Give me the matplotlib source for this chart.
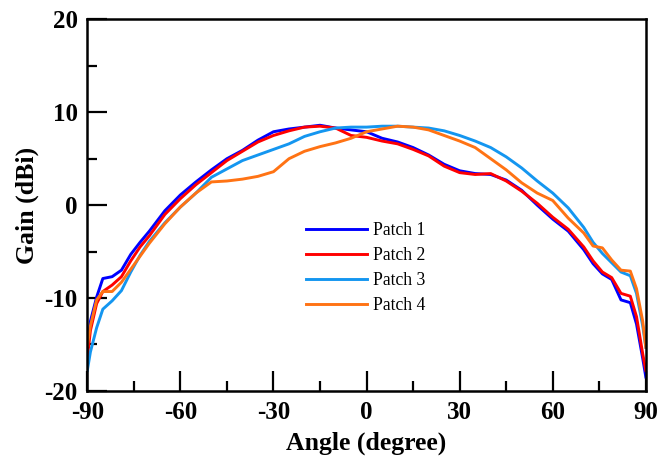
import numpy as np
import matplotlib.pyplot as plt
from matplotlib.ticker import MultipleLocator

# angles in degrees
angle = [-90, -89, -87, -85, -82, -79, -76, -73, -70, -65, -60, -55, -50, -45, -40,
         -35, -30, -25, -20, -15, -10, -5, 0, 5, 10, 15, 20, 25, 30, 35, 40, 45,
         50, 55, 60, 65, 70, 73, 76, 79, 82, 85, 87, 89, 90]

patch1 = [-15.5, -12.5, -9.9, -7.9, -7.7, -7.0, -5.3, -4.0, -2.8, -0.6, 1.1, 2.5, 3.8, 5.0, 5.9,
          7.0, 7.9, 8.2, 8.4, 8.6, 8.3, 8.1, 7.9, 7.2, 6.8, 6.2, 5.4, 4.4, 3.7, 3.4, 3.3, 2.7,
          1.6, 0.0, -1.5, -2.8, -4.8, -6.3, -7.4, -8.0, -10.2, -10.5, -12.8, -16.5, -18.5]
patch2 = [-16.5, -13.5, -10.6, -9.3, -8.6, -7.7, -6.0, -4.5, -3.3, -1.0, 0.7, 2.2, 3.5, 4.8, 5.8,
          6.8, 7.5, 8.0, 8.4, 8.5, 8.3, 7.5, 7.3, 6.9, 6.6, 6.0, 5.3, 4.2, 3.5, 3.3, 3.4, 2.6,
          1.5, 0.2, -1.3, -2.6, -4.5, -6.0, -7.2, -7.8, -9.5, -9.8, -12.0, -16.0, -17.8]
patch3 = [-17.8, -15.8, -13.2, -11.2, -10.3, -9.2, -7.2, -5.4, -3.9, -1.9, -0.2, 1.3, 3.0, 3.9, 4.8,
          5.4, 6.0, 6.6, 7.4, 7.9, 8.3, 8.4, 8.4, 8.5, 8.5, 8.4, 8.3, 8.0, 7.5, 6.9, 6.2, 5.2,
          4.0, 2.6, 1.3, -0.3, -2.4, -4.0, -5.2, -6.2, -7.2, -7.6, -9.5, -13.0, -15.3]
patch4 = [-15.1, -13.0, -10.2, -9.3, -9.3, -8.3, -6.9, -5.5, -4.1, -2.0, -0.2, 1.3, 2.5, 2.6, 2.8,
          3.1, 3.6, 5.0, 5.8, 6.3, 6.7, 7.2, 7.9, 8.2, 8.5, 8.4, 8.1, 7.5, 6.9, 6.2, 5.0, 3.8,
          2.4, 1.3, 0.5, -1.4, -3.0, -4.4, -4.6, -5.9, -7.0, -7.1, -9.0, -12.5, -15.3]

labels = ['Patch 1', 'Patch 2', 'Patch 3', 'Patch 4']
colors = ['#0000ff', '#ff0000', '#1496f0', '#ff7314']

plt.rcParams['font.family'] = ['Liberation Serif', 'DejaVu Serif']
plt.rcParams['axes.unicode_minus'] = False

fig = plt.figure(figsize=(6.59, 4.61), dpi=100)
ax = fig.add_axes([0.1325, 0.152, 0.8475, 0.806])

for y, lab, c in zip([patch1, patch2, patch3, patch4], labels, colors):
    ax.plot(angle, y, color=c, lw=2.1, label=lab)

ax.set_xlim(-90, 90)
ax.set_ylim(-20, 20)
ax.xaxis.set_major_locator(MultipleLocator(30))
ax.xaxis.set_minor_locator(MultipleLocator(15))
ax.yaxis.set_major_locator(MultipleLocator(10))
ax.yaxis.set_minor_locator(MultipleLocator(5))
ax.tick_params(which='both', direction='in', width=1.6, top=False, right=False)
ax.tick_params(which='major', length=14.5, pad=7, labelsize=18)
ax.tick_params(which='minor', length=7.5)
for lab in ax.get_xticklabels() + ax.get_yticklabels():
    lab.set_fontweight('bold')
for s in ax.spines.values():
    s.set_linewidth(1.8)

ax.set_xlabel('Angle (degree)', fontsize=18.5, fontweight='bold', labelpad=6)
ax.set_ylabel('Gain (dBi)', fontsize=18.5, fontweight='bold', labelpad=4)

ax.legend(loc='upper left', bbox_to_anchor=(0.3907, 0.455), frameon=False,
          fontsize=12.7, handlelength=3.46, handletextpad=0.34, labelspacing=0.46,
          borderpad=0, borderaxespad=0)

fig.savefig('out.png', dpi=100)
